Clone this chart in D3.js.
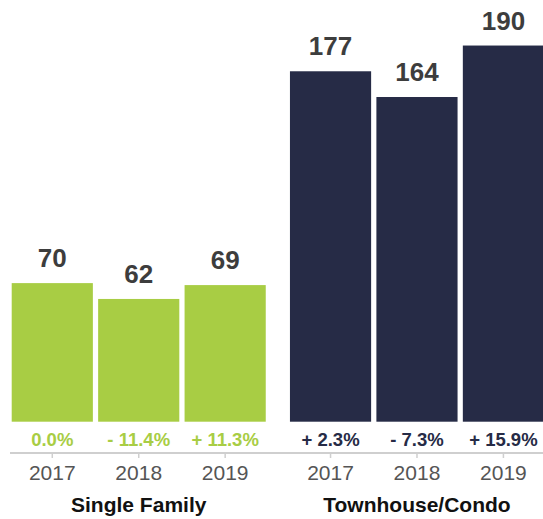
<!DOCTYPE html>
<html>
<head>
<meta charset="utf-8">
<script src="https://cdn.jsdelivr.net/npm/d3@7"></script>
<style>
  body { margin: 0; background: #fff; }
  svg { display: block; font-family: "Liberation Sans", Arial, Helvetica, sans-serif; }
</style>
</head>
<body>
<div id="chart"></div>
<script>
const groups = ["Single Family", "Townhouse/Condo"];
const years = ["2017", "2018", "2019"];
const singleFamily = [70, 62, 69];
const townhouseCondo = [177, 164, 190];
const singleFamilyChange = ["0.0%", "- 11.4%", "+ 11.3%"];
const townhouseCondoChange = ["+ 2.3%", "- 7.3%", "+ 15.9%"];
const groupColors = ["#a8cd44", "#262b46"];

const WIDTH = 543, HEIGHT = 519;
const BASELINE = 421.7;   // bottom of the bars
const AXIS_Y = 453;       // grey axis line

// one entry per group, built from the arrays above
const series = [
    {name: groups[0], values: singleFamily, change: singleFamilyChange, color: groupColors[0]},
    {name: groups[1], values: townhouseCondo, change: townhouseCondoChange, color: groupColors[1]}
];

// outer band: the two groups
const x0 = d3.scaleBand()
    .domain(groups)
    .range([11.7, 544])
    .paddingInner(0.087)
    .paddingOuter(0);

// inner band: years inside one group
const x1 = d3.scaleBand()
    .domain(years)
    .range([0, x0.bandwidth()])
    .paddingInner(0.061)
    .paddingOuter(0);

const y = d3.scaleLinear()
    .domain([0, 213])
    .range([BASELINE, 0]);

const svg = d3.select("#chart")
    .append("svg")
    .attr("width", WIDTH)
    .attr("height", HEIGHT);

// continuous axis line across both groups
svg.append("line")
    .attr("x1", 10)
    .attr("x2", WIDTH)
    .attr("y1", AXIS_Y)
    .attr("y2", AXIS_Y)
    .attr("stroke", "#cfcfcf")
    .attr("stroke-width", 2);

const g = svg.selectAll(".group")
    .data(series)
    .enter()
    .append("g")
    .classed("group", true)
    .attr("transform", d => `translate(${x0(d.name)},0)`);

// bars
g.selectAll(".bar")
    .data(d => d.values.map((v, i) => ({year: years[i], value: v, change: d.change[i], color: d.color})))
    .enter()
    .append("rect")
    .classed("bar", true)
    .attr("x", d => x1(d.year))
    .attr("width", x1.bandwidth())
    .attr("y", d => y(d.value))
    .attr("height", d => y(0) - y(d.value))
    .attr("fill", d => d.color);

// value on top of bar
g.selectAll(".label")
    .data(d => d.values.map((v, i) => ({year: years[i], value: v})))
    .enter()
    .append("text")
    .classed("label", true)
    .attr("x", d => x1(d.year) + x1.bandwidth() / 2)
    .attr("y", d => y(d.value) - 16)
    .attr("text-anchor", "middle")
    .attr("font-size", 26)
    .attr("font-weight", "bold")
    .attr("fill", "#3d3d3d")
    .text(d => d.value);

// change percentage under the bar
g.selectAll(".change")
    .data(d => d.change.map((c, i) => ({year: years[i], change: c, color: d.color})))
    .enter()
    .append("text")
    .classed("change", true)
    .attr("x", d => x1(d.year) + x1.bandwidth() / 2)
    .attr("y", 446)
    .attr("text-anchor", "middle")
    .attr("font-size", 18.5)
    .attr("font-weight", "bold")
    .attr("fill", d => d.color)
    .text(d => d.change);

// year axis for each group
g.append("g")
    .attr("transform", `translate(0,${AXIS_Y})`)
    .each(function () {
        d3.select(this).call(d3.axisBottom(x1).tickSize(5).tickPadding(7));
    })
    .call(a => a.select(".domain").remove())
    .call(a => a.selectAll(".tick line").attr("stroke", "#cfcfcf").attr("stroke-width", 1.5))
    .call(a => a.selectAll(".tick text")
        .attr("font-size", 21)
        .attr("font-family", "\"Liberation Sans\", Arial, sans-serif")
        .attr("fill", "#555"));

// group title
g.append("text")
    .attr("x", x0.bandwidth() / 2)
    .attr("y", 512)
    .attr("text-anchor", "middle")
    .attr("font-size", 21)
    .attr("font-weight", "bold")
    .attr("fill", "#111")
    .text(d => d.name);
</script>
</body>
</html>
